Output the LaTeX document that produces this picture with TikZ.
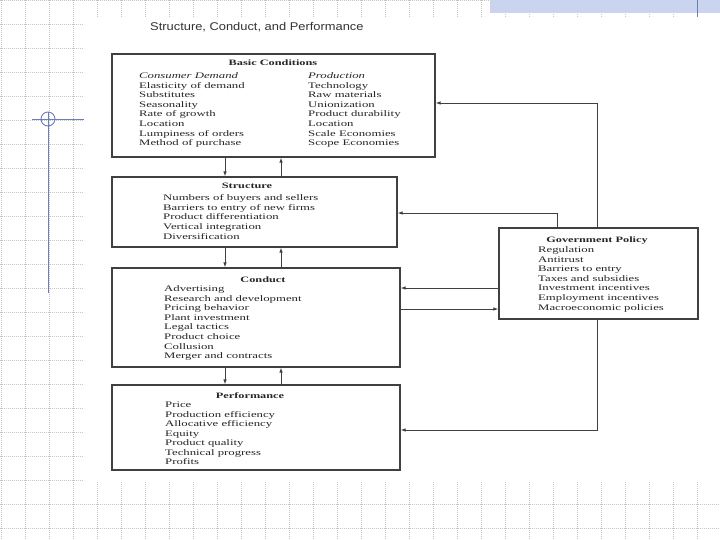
\documentclass[tikz,border=0pt]{standalone}
\usepackage{fontspec}
\setmainfont{Liberation Serif}[FakeStretch=1.5]
\newfontfamily\titlefont{Liberation Sans}[FakeStretch=1.15]
\usetikzlibrary{arrows.meta}
\definecolor{bandblue}{RGB}{203,212,238}
\definecolor{decoblue}{RGB}{105,125,185}
\tikzset{
  gridline/.style={gray!45, line width=0.6pt, dash pattern=on 1pt off 1pt},
  decoline/.style={decoblue, line width=0.9pt},
  slidetitle/.style={font=\titlefont\fontsize{11.2}{13}\selectfont, text=black!80, inner sep=0pt},
  box/.style={draw=black!75, line width=1.1pt, inner sep=0pt},
  heading/.style={font=\fontsize{8.2}{9.55}\selectfont\bfseries, text=black!85, anchor=base, inner sep=0pt},
  items/.style={font=\fontsize{8.5}{9.55}\selectfont, text=black!85, align=left, anchor=north west, inner sep=0pt},
  link/.style={draw=black!75, line width=0.9pt, -{Latex[length=5pt,width=3.5pt]}},
}
\begin{document}
\begin{tikzpicture}[x=1pt,y=-1pt]
\useasboundingbox (0,0) rectangle (720,540);
% slide background
\foreach \gx in {1,25,...,721}
  \draw[gridline] (\gx,0) -- (\gx,540);
\foreach \gy in {0,24,...,540}
  \draw[gridline] (0,\gy) -- (720,\gy);
\fill[white] (84,17) rectangle (720,482);
\fill[bandblue] (490,0) rectangle (720,13);
\draw[decoline] (697,0) -- (697,17);
\draw[decoline] (32,119) -- (84,119);
\draw[decoline] (48,112) -- (48,293);
\draw[decoline] (48,119) circle[radius=7];

\node[slidetitle, anchor=base west] (title) at (150,31) {Structure, Conduct, and Performance};

% boxes
\node[box, minimum width=323, minimum height=103] (basic) at (273.5,105.5) {};
\node[box, minimum width=285, minimum height=70] (struct) at (254.5,212) {};
\node[box, minimum width=288, minimum height=99] (conduct) at (256,317.5) {};
\node[box, minimum width=288, minimum height=85] (perf) at (256,427.5) {};
\node[box, minimum width=199, minimum height=91] (gov) at (598.5,273.5) {};

% box texts
\node[heading] (basichead) at (273,66) {Basic Conditions};
\node[items] (demand) at (139,72.7) {\textit{Consumer Demand}\\Elasticity of demand\\Substitutes\\Seasonality\\Rate of growth\\Location\\Lumpiness of orders\\Method of purchase};
\node[items] (supply) at (308,72.7) {\textit{Production}\\Technology\\Raw materials\\Unionization\\Product durability\\Location\\Scale Economies\\Scope Economies};

\node[heading] (structhead) at (247,188.5) {Structure};
\node[items] (structlist) at (163,194.7) {Numbers of buyers and sellers\\Barriers to entry of new firms\\Product differentiation\\Vertical integration\\Diversification};

\node[heading] (conducthead) at (263,282) {Conduct};
\node[items] (conductlist) at (164,285.7) {Advertising\\Research and development\\Pricing behavior\\Plant investment\\Legal tactics\\Product choice\\Collusion\\Merger and contracts};

\node[heading] (perfhead) at (250,398) {Performance};
\node[items] (perflist) at (165,401.7) {Price\\Production efficiency\\Allocative efficiency\\Equity\\Product quality\\Technical progress\\Profits};

\node[heading] (govhead) at (597,242) {Government Policy};
\node[items] (govlist) at (538,246.7) {Regulation\\Antitrust\\Barriers to entry\\Taxes and subsidies\\Investment incentives\\Employment incentives\\Macroeconomic policies};

% links between the column boxes
\coordinate (down) at (225,0);
\coordinate (up) at (281,0);
\draw[link] (basic.south -| down) -- (struct.north -| down);
\draw[link] (struct.north -| up) -- (basic.south -| up);
\draw[link] (struct.south -| down) -- (conduct.north -| down);
\draw[link] (conduct.north -| up) -- (struct.south -| up);
\draw[link] (conduct.south -| down) -- (perf.north -| down);
\draw[link] (perf.north -| up) -- (conduct.south -| up);

% links to and from government policy
\coordinate (gb) at (597,103);
\coordinate (gs) at (557,213);
\coordinate (gc) at (0,288);
\coordinate (cg) at (0,309);
\coordinate (gp) at (597,430);
\draw[link] (gov.north -| gb) -- (gb) -- (basic.east |- gb);
\draw[link] (gov.north -| gs) -- (gs) -- (struct.east |- gs);
\draw[link] (gov.west |- gc) -- (conduct.east |- gc);
\draw[link] (conduct.east |- cg) -- (gov.west |- cg);
\draw[link] (gov.south -| gp) -- (gp) -- (perf.east |- gp);
\end{tikzpicture}
\end{document}
